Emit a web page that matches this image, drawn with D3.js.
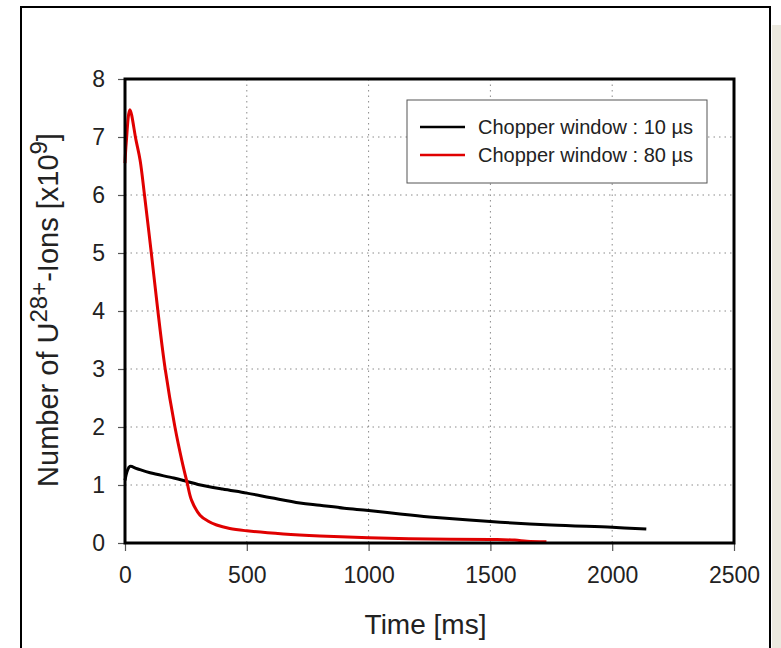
<!DOCTYPE html>
<html>
<head>
<meta charset="utf-8">
<script src="https://cdn.jsdelivr.net/npm/d3@7"></script>
<style>
  body { margin: 0; background: #fff; }
  svg { display: block; font-family: "Liberation Sans", Arial, sans-serif; }
  .grid line { stroke: #8a8a8a; stroke-width: 1; stroke-dasharray: 1.5,4; }
  .axis path { display: none; }
  .axis line { stroke: #555; stroke-width: 1.2; }
  .axis text { font-size: 23px; fill: #222; }
</style>
</head>
<body>
<div id="chart"></div>
<script>
// time values in ms, number of ions in 1e9
var timeBlack = [0, 10, 20, 50, 103, 200, 255, 300, 400, 500, 600, 718, 800, 900, 1000, 1129, 1250, 1500, 1750, 2000, 2140];
var ionsBlack = [1.08, 1.25, 1.32, 1.28, 1.21, 1.12, 1.06, 1.01, 0.93, 0.86, 0.78, 0.69, 0.65, 0.60, 0.56, 0.50, 0.45, 0.37, 0.31, 0.27, 0.24];

var timeRed = [0, 5, 20, 45, 62, 80, 108, 135, 165, 205, 233, 255, 273, 308, 340, 376, 430, 500, 650, 800, 1000, 1250, 1500, 1600, 1650, 1730];
var ionsRed = [6.55, 6.9, 7.47, 6.95, 6.6, 6.0, 5.0, 4.0, 3.0, 2.0, 1.43, 1.04, 0.74, 0.48, 0.38, 0.31, 0.25, 0.21, 0.155, 0.12, 0.09, 0.07, 0.06, 0.05, 0.03, 0.02];

var xTicks = [0, 500, 1000, 1500, 2000, 2500];
var yTicks = [0, 1, 2, 3, 4, 5, 6, 7, 8];
var legendLabels = ["Chopper window : 10 \u00b5s", "Chopper window : 80 \u00b5s"];
var seriesColors = ["#000000", "#e00000"];

var W = 781, H = 648;
var margin = {top: 79, right: 47, bottom: 105, left: 125},
    width = W - margin.left - margin.right,
    height = H - margin.top - margin.bottom;

var svgRoot = d3.select("#chart").append("svg")
    .attr("width", W)
    .attr("height", H);

// outer frame and the beige strip on the right
svgRoot.append("rect")
    .attr("x", 772).attr("y", 25).attr("width", 9).attr("height", H - 25)
    .attr("fill", "#ece9df");
svgRoot.append("rect")
    .attr("x", 21).attr("y", 7).attr("width", 749).attr("height", H + 10)
    .attr("fill", "none").attr("stroke", "#000").attr("stroke-width", 2);

var svg = svgRoot.append("g")
    .attr("transform", "translate(" + margin.left + "," + margin.top + ")");

var xScale = d3.scaleLinear().domain([0, 2500]).range([0, width]);
var yScale = d3.scaleLinear().domain([0, 8]).range([height, 0]);

// dotted grid
svg.append("g").attr("class", "grid")
    .selectAll("line.v").data(xTicks.slice(1, -1)).enter().append("line")
    .attr("x1", d => xScale(d)).attr("x2", d => xScale(d))
    .attr("y1", 0).attr("y2", height);
svg.append("g").attr("class", "grid")
    .selectAll("line.h").data(yTicks.slice(1, -1)).enter().append("line")
    .attr("x1", 0).attr("x2", width)
    .attr("y1", d => yScale(d)).attr("y2", d => yScale(d));

// axes
var xAxis = d3.axisBottom(xScale).tickValues(xTicks).tickSize(8).tickPadding(16).tickFormat(d3.format("d"));
var yAxis = d3.axisLeft(yScale).tickValues(yTicks).tickSize(7).tickPadding(13).tickFormat(d3.format("d"));

svg.append("g").attr("class", "x axis")
    .attr("transform", "translate(0," + height + ")")
    .call(xAxis);
svg.append("g").attr("class", "y axis")
    .call(yAxis);

// curves
var line = d3.line()
    .x(d => xScale(d[0]))
    .y(d => yScale(d[1]))
    .curve(d3.curveCatmullRom.alpha(0.5));

var series = [
    d3.zip(timeBlack, ionsBlack),
    d3.zip(timeRed, ionsRed)
];

svg.selectAll("path.series").data(series).enter().append("path")
    .attr("class", "series")
    .attr("d", line)
    .attr("fill", "none")
    .attr("stroke", (d, i) => seriesColors[i])
    .attr("stroke-width", 3)
    .attr("stroke-linejoin", "round");

// plot frame
svg.append("rect")
    .attr("x", 0).attr("y", 0).attr("width", width).attr("height", height)
    .attr("fill", "none").attr("stroke", "#000").attr("stroke-width", 3);

// legend
var legend = svg.append("g").attr("transform", "translate(" + (407 - margin.left) + "," + (100 - margin.top) + ")");
legend.append("rect")
    .attr("width", 300).attr("height", 83)
    .attr("fill", "#fff").attr("stroke", "#555").attr("stroke-width", 1);
legendLabels.forEach(function(lbl, i) {
    var yy = 27 + i * 28;
    legend.append("line")
        .attr("x1", 13).attr("x2", 58).attr("y1", yy).attr("y2", yy)
        .attr("stroke", seriesColors[i]).attr("stroke-width", 2.5);
    legend.append("text")
        .attr("x", 71).attr("y", yy + 7)
        .attr("font-size", "20px").attr("fill", "#222")
        .text(lbl);
});

// axis titles
svgRoot.append("text")
    .attr("x", margin.left + width / 2 - 4).attr("y", 634)
    .attr("text-anchor", "middle")
    .attr("font-size", "28px").attr("fill", "#222")
    .text("Time [ms]");

var yTitle = svgRoot.append("text")
    .attr("transform", "translate(58," + (margin.top + height / 2 - 1) + ") rotate(-90)")
    .attr("text-anchor", "middle")
    .attr("font-size", "29px").attr("fill", "#222");
yTitle.append("tspan").text("Number of U");
yTitle.append("tspan").attr("dy", -11).attr("font-size", "24px").text("28+");
yTitle.append("tspan").attr("dy", 11).text("-Ions [x10");
yTitle.append("tspan").attr("dy", -11).attr("font-size", "24px").text("9");
yTitle.append("tspan").attr("dy", 11).text("]");
</script>
</body>
</html>
